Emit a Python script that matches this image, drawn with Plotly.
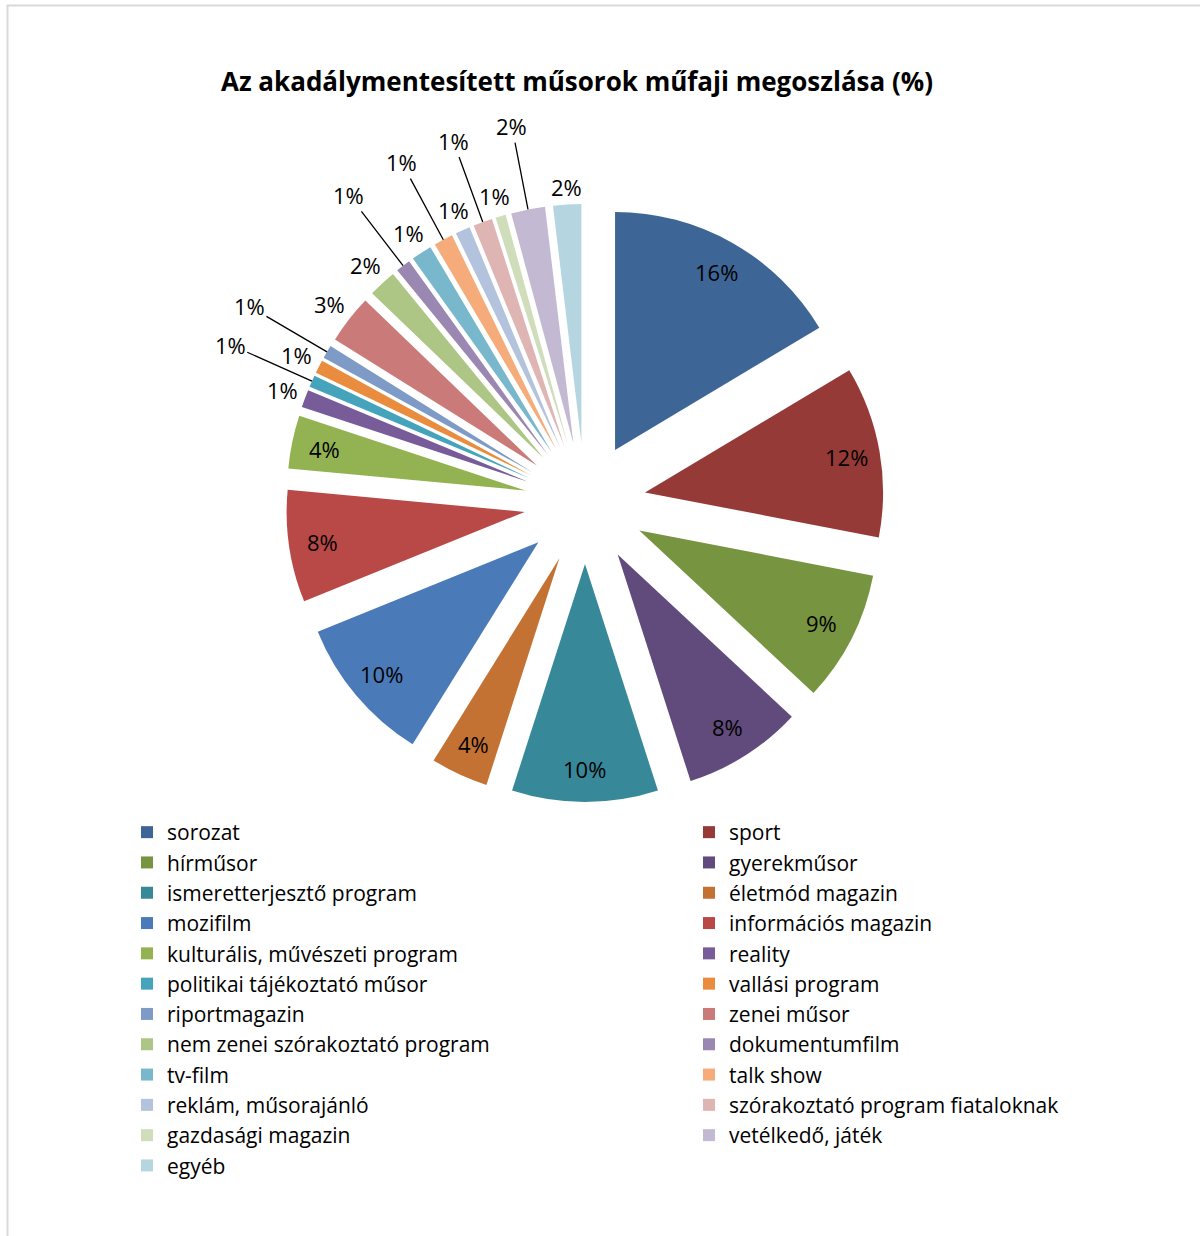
import math
import plotly.graph_objects as go

categories = ["sorozat", "sport", "hírműsor", "gyerekműsor", "ismeretterjesztő program",
              "életmód magazin", "mozifilm", "információs magazin", "kulturális, művészeti program",
              "reality", "politikai tájékoztató műsor", "vallási program", "riportmagazin",
              "zenei műsor", "nem zenei szórakoztató program", "dokumentumfilm", "tv-film",
              "talk show", "reklám, műsorajánló", "szórakoztató program fiataloknak",
              "gazdasági magazin", "vetélkedő, játék", "egyéb"]
values = [16.4, 11.6, 8.9, 8.1, 9.9, 3.9, 10.0, 7.6, 3.6,
          1.2, 0.8, 0.9, 0.9, 3.3, 1.9, 1.0, 1.4, 1.3, 1.0, 1.3, 0.7, 2.3, 1.9]
colors = ["#3D6696", "#963A38", "#779441", "#614B7C", "#378899", "#C47234", "#4A7BB8",
          "#B94946", "#93B353", "#785C9A", "#45A3BB", "#E98C3E", "#7E9BC8", "#C97A79",
          "#ADC585", "#9A87B2", "#79B8CC", "#F6AB7B", "#B3C3DE", "#DFB5B4", "#D0DDBB",
          "#C3B9D3", "#B5D6E0"]
title = "Az akadálymentesített műsorok műfaji megoszlása (%)"

W, H = 1200, 1236
FONT = "'Open Sans', Lato, sans-serif"
PULL = 0.256
DOM_X = [286 / W, 884 / W]
DOM_Y = [1 - 802 / H, 1 - 204 / H]
LABEL_SIZE = 22

fig = go.Figure(go.Pie(
    labels=categories,
    values=values,
    sort=False,
    direction="clockwise",
    rotation=0,
    pull=PULL,
    marker=dict(colors=colors, line=dict(width=0)),
    textinfo="none",
    hoverinfo="label+percent",
    domain=dict(x=DOM_X, y=DOM_Y),
))

# ---- percentage labels placed from the slice geometry (derived from the data) ----
total = sum(values)
cx = (DOM_X[0] + DOM_X[1]) / 2 * W
cy = (1 - (DOM_Y[0] + DOM_Y[1]) / 2) * H
r = (DOM_X[1] - DOM_X[0]) * W / 2 / (1 + PULL)

annotations = []
placed = []
BW, BH = 34, 26
FAR_JUMP = 65


def collides(x, y):
    for (px, py) in placed:
        if abs(px - x) < BW and abs(py - y) < BH:
            return True
    return False


cum = 0.0
for v in values:
    frac = v / total
    theta = math.radians((cum + v / 2) / total * 360)
    cum += v
    s, c = math.sin(theta), -math.cos(theta)
    tipx, tipy = cx + PULL * r * s, cy + PULL * r * c
    txt = f"{round(frac * 100):d}%"
    if frac >= 0.035:
        lx, ly = tipx + 0.86 * r * s, tipy + 0.86 * r * c
        annotations.append(dict(x=lx / W, y=1 - ly / H, xref="paper", yref="paper",
                                text=txt, showarrow=False, xanchor="center", yanchor="middle",
                                font=dict(family=FONT, size=LABEL_SIZE, color="#000000")))
        continue
    ex, ey = tipx + r * s, tipy + r * c
    near = abs(s) * 16 + abs(c) * 12 + 5
    extra = [0] + [FAR_JUMP + 8 * k for k in range(20)]
    for e in extra:
        d = near + e
        lx, ly = ex + d * s, ey + d * c
        if not collides(lx, ly):
            break
    placed.append((lx, ly))
    if e == 0:
        annotations.append(dict(x=lx / W, y=1 - ly / H, xref="paper", yref="paper",
                                text=txt, showarrow=False, xanchor="center", yanchor="middle",
                                font=dict(family=FONT, size=LABEL_SIZE, color="#000000")))
    else:
        annotations.append(dict(x=ex / W, y=1 - ey / H, xref="paper", yref="paper",
                                text=txt, showarrow=True, arrowhead=0, arrowwidth=1.3,
                                arrowcolor="#000000", standoff=0, startstandoff=0,
                                ax=lx - ex, ay=ly - ey,
                                font=dict(family=FONT, size=LABEL_SIZE, color="#000000")))

fig.update_layout(
    width=W, height=H,
    margin=dict(l=0, r=0, t=0, b=0, autoexpand=False),
    paper_bgcolor="white",
    plot_bgcolor="white",
    font=dict(family=FONT, size=20, color="#000000"),
    title=dict(text="<b>" + title + "</b>", x=577 / W, xref="container", xanchor="center",
               y=1 - 82 / H, yref="container", yanchor="middle",
               font=dict(family=FONT, size=26, color="#000000")),
    showlegend=True,
    legend=dict(orientation="h", xref="paper", yref="paper",
                x=127 / W, xanchor="left", y=1 - 812 / H, yanchor="top",
                entrywidth=517, entrywidthmode="pixels",
                font=dict(family=FONT, size=21, color="#000000"),
                traceorder="normal", itemclick=False, itemdoubleclick=False),
    annotations=annotations,
    shapes=[dict(type="rect", xref="paper", yref="paper",
                 x0=7.5 / W, x1=1.05, y0=-0.05, y1=1 - 5.5 / H,
                 line=dict(color="#D9D9D9", width=2), fillcolor="rgba(0,0,0,0)", layer="below")],
)

fig.write_html("out.html")
